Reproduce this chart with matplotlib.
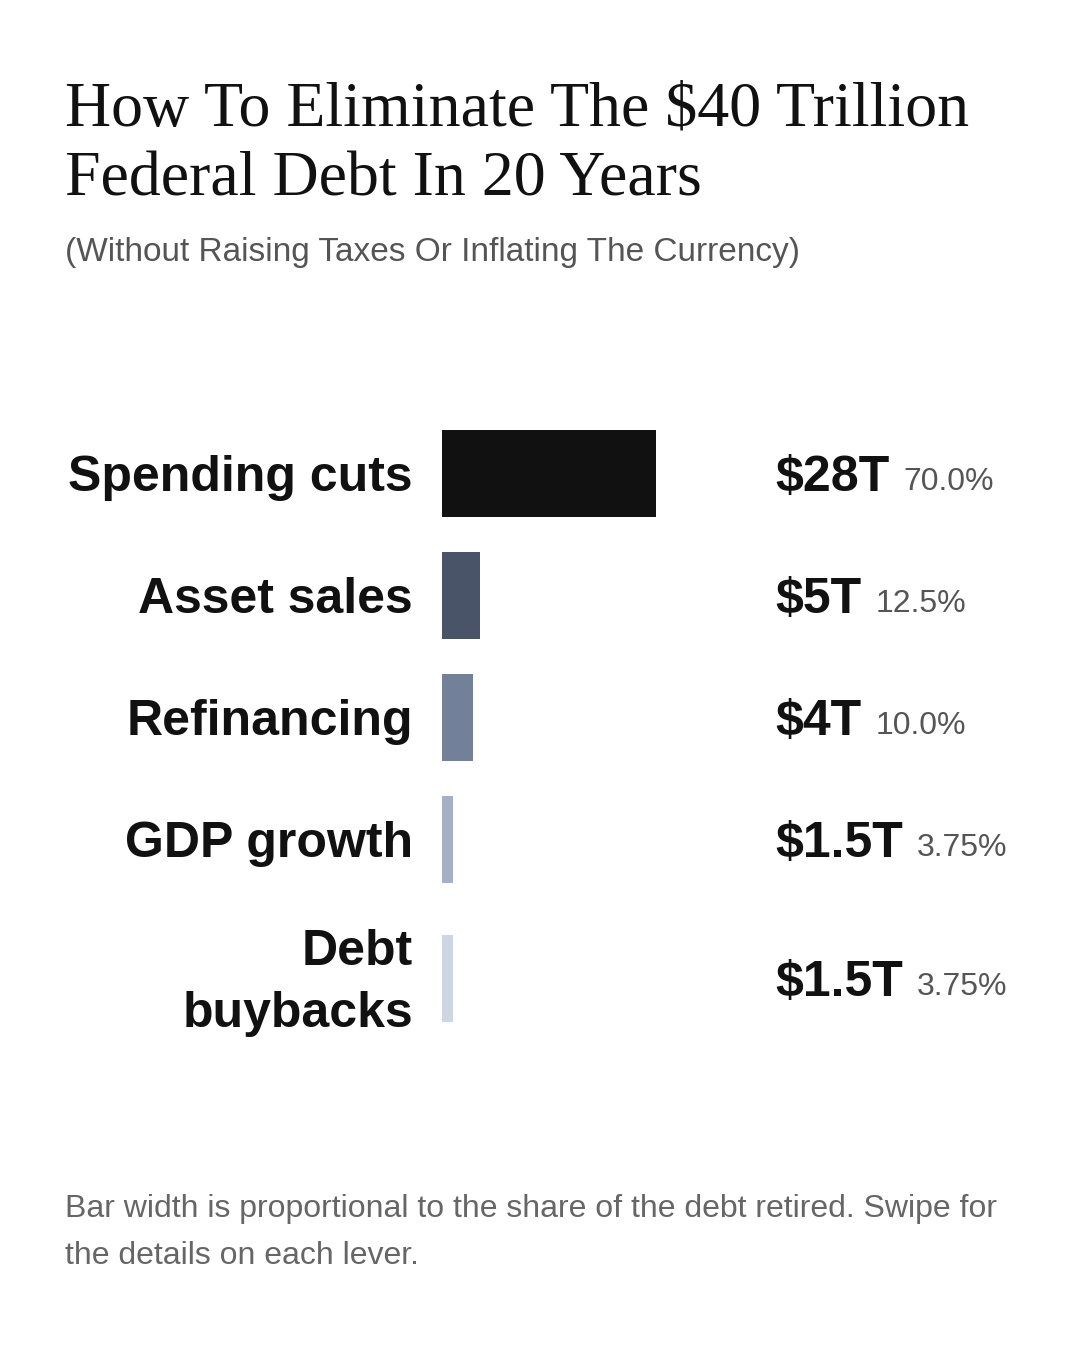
import matplotlib
matplotlib.use("Agg")
import matplotlib.pyplot as plt

categories = ["Spending cuts", "Asset sales", "Refinancing", "GDP growth", "Debt\nbuybacks"]
shares = [70.0, 12.5, 10.0, 3.75, 3.75]
values = ["$28T", "$5T", "$4T", "$1.5T", "$1.5T"]
pct_labels = ["70.0%", "12.5%", "10.0%", "3.75%", "3.75%"]
colors = ["#111111", "#4a5468", "#728099", "#a3b0c6", "#cdd6e3"]
centers = [473, 595, 717, 839, 978]  # layout rows in px
H = 87

W, Hf = 1080, 1350
fig = plt.figure(figsize=(10.8, 13.5), dpi=100)
fig.patch.set_facecolor("white")

ax = fig.add_axes([442 / W, 0, 305.7 / W, 1])
ax.set_xlim(0, 100)
ax.set_ylim(Hf, 0)
ax.axis("off")
ax.barh(centers, shares, height=H, color=colors, left=0)

sans = ["Liberation Sans", "DejaVu Sans"]
serif = ["Liberation Serif", "DejaVu Serif"]

def fy(p):
    return 1 - p / Hf

fig.text(65 / W, fy(111), "How To Eliminate The $40 Trillion", family=serif, fontsize=46, color="#111111", va="center")
fig.text(65 / W, fy(181), "Federal Debt In 20 Years", family=serif, fontsize=46, color="#111111", va="center")
fig.text(65 / W, fy(252), "(Without Raising Taxes Or Inflating The Currency)", family=sans, fontsize=24, color="#555555", va="center")

for c, lab, v, p in zip(centers, categories, values, pct_labels):
    fig.text(413 / W, fy(c + 5), lab, family=sans, fontsize=36, weight="bold", color="#111111",
             ha="right", va="center", multialignment="right", linespacing=1.45)
    t = fig.text(775 / W, fy(c + 5), v, family=sans, fontsize=36, weight="bold", color="#111111", va="center")
    fig.canvas.draw()
    bb = t.get_window_extent()
    fig.text((bb.x1 + 14) / W, fy(c + 9), p, family=sans, fontsize=23, color="#555555", va="center")

fig.text(65 / W, fy(1209), "Bar width is proportional to the share of the debt retired. Swipe for",
         family=sans, fontsize=23, color="#666666", va="center")
fig.text(65 / W, fy(1256), "the details on each lever.", family=sans, fontsize=23, color="#666666", va="center")

fig.savefig("out.png", dpi=100, facecolor="white")
